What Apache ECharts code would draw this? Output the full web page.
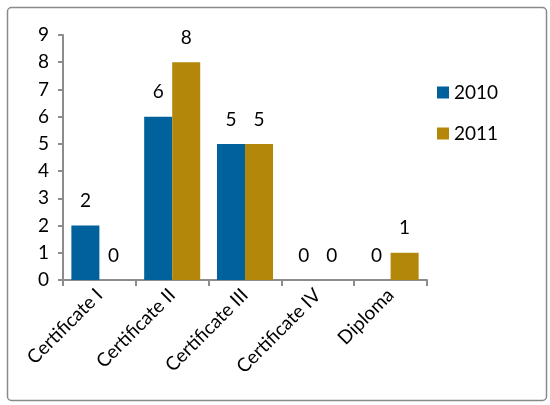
<!DOCTYPE html>
<html>
<head>
<meta charset="utf-8">
<script src="https://cdn.jsdelivr.net/npm/echarts@6/dist/echarts.min.js"></script>
<style>
  html, body { margin: 0; padding: 0; background: #fff; }
  #chart { width: 550px; height: 405px; }
</style>
</head>
<body>
<div id="chart"></div>
<script>
// Qualifications completed per year
const categories = ['Certificate I', 'Certificate II', 'Certificate III', 'Certificate IV', 'Diploma'];
const values2010 = [2, 6, 5, 0, 0];
const values2011 = [0, 8, 5, 0, 1];
const yTicks = { min: 0, max: 9, interval: 1 };

const FONT = 'Lato, "Open Sans", sans-serif';
const axisGray = '#8c8c8c';

const chart = echarts.init(document.getElementById('chart'), null, { renderer: 'canvas' });

const labelStyle = {
  show: true,
  position: 'top',
  distance: 15,
  color: '#000',
  fontSize: 19,
  fontFamily: FONT
};

chart.setOption({
  animation: false,
  backgroundColor: '#fff',
  graphic: [{
    type: 'rect',
    left: 5,
    top: 5,
    shape: { width: 539, height: 393, r: 4 },
    style: { fill: 'none', stroke: '#8a8a8a', lineWidth: 1.5 },
    silent: true
  }],
  legend: {
    orient: 'vertical',
    left: 432,
    top: 78,
    itemWidth: 12,
    itemHeight: 12,
    itemGap: 22,
    icon: 'rect',
    textStyle: { fontSize: 19, fontFamily: FONT, color: '#000' },
    data: ['2010', '2011']
  },
  grid: { left: 63, right: 123, top: 35, bottom: 125, containLabel: false },
  xAxis: {
    type: 'category',
    data: categories,
    axisLine: { lineStyle: { color: axisGray, width: 2 } },
    axisTick: { show: true, length: 6, lineStyle: { color: axisGray, width: 2 } },
    axisLabel: {
      rotate: 45,
      interval: 0,
      margin: 12,
      fontSize: 19,
      fontFamily: FONT,
      color: '#000'
    }
  },
  yAxis: {
    type: 'value',
    min: yTicks.min,
    max: yTicks.max,
    interval: yTicks.interval,
    splitLine: { show: false },
    axisLine: { show: true, lineStyle: { color: axisGray, width: 2 } },
    axisTick: { show: true, length: 5, lineStyle: { color: axisGray, width: 2 } },
    axisLabel: { fontSize: 19, fontFamily: FONT, color: '#000', margin: 14 }
  },
  series: [
    {
      name: '2010',
      type: 'bar',
      data: values2010,
      barGap: '0%',
      barCategoryGap: '23%',
      itemStyle: { color: '#00619C' },
      label: labelStyle
    },
    {
      name: '2011',
      type: 'bar',
      data: values2011,
      barGap: '0%',
      barCategoryGap: '23%',
      itemStyle: { color: '#B3870A' },
      label: labelStyle
    }
  ]
});
</script>
</body>
</html>
